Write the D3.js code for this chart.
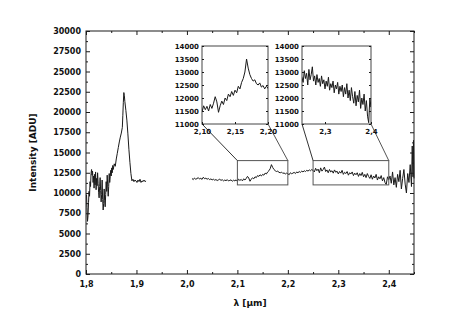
<!DOCTYPE html>
<html><head><meta charset="utf-8">
<script src="https://cdn.jsdelivr.net/npm/d3@7"></script>
<style>
body{margin:0;background:#fff}
text{font-family:"DejaVu Sans",sans-serif;font-weight:bold;fill:#111}
</style>
</head><body><svg id="c" width="463" height="334"></svg>
<script>
// ---- data ----
const seg1Lambda = [1.801,1.802,1.803,1.804,1.805,1.806,1.807,1.808,1.809,1.810,1.811,1.812,1.813,1.814,1.815,1.816,1.817,1.818,1.819,1.820,1.821,1.822,1.823,1.824,1.825,1.826,1.827,1.828,1.829,1.830,1.831,1.832,1.833,1.834,1.835,1.836,1.837,1.838,1.839,1.840,1.841,1.842,1.843,1.844,1.845,1.846,1.847,1.848,1.849,1.850,1.851,1.852,1.853,1.854,1.856,1.858,1.860,1.862,1.864,1.866,1.868,1.870,1.872,1.873,1.874,1.875,1.876,1.877,1.879,1.881,1.883,1.885,1.887,1.889,1.891,1.893,1.895,1.897,1.899,1.901,1.903,1.905,1.907,1.909,1.911,1.913,1.915,1.917,1.919];
const seg1Intensity = [9800,8200,6500,7200,8800,10200,9600,11400,10800,12400,12900,12200,12700,11300,12100,10600,12300,11000,12600,10400,11800,10900,12500,11200,10100,9400,10800,11900,10300,8900,9800,11600,9200,7900,8700,10500,9100,8300,9800,11400,10200,12200,11000,9600,10800,12400,11300,12000,12800,12100,13100,12500,13400,12900,13600,13300,14200,14900,15600,16300,16900,17400,18100,19600,21200,22400,22000,21300,20200,19000,17300,15400,13800,12400,11500,11700,11400,11600,11500,11300,11600,11400,11700,11300,11500,11400,11600,11400,11500];

const seg2Lambda = [2.0100,2.0125,2.0150,2.0175,2.0200,2.0225,2.0250,2.0275,2.0300,2.0325,2.0350,2.0375,2.0400,2.0425,2.0450,2.0475,2.0500,2.0525,2.0550,2.0575,2.0600,2.0625,2.0650,2.0675,2.0700,2.0725,2.0750,2.0775,2.0800,2.0825,2.0850,2.0875,2.0900,2.0925,2.0950,2.0975,2.1000,
2.1025,2.1050,2.1075,2.1100,2.1125,2.1150,2.1175,2.1200,2.1225,2.1250,2.1275,2.1300,2.1325,2.1350,2.1375,2.1400,2.1425,2.1450,2.1475,2.1500,2.1525,2.1550,2.1575,2.1600,2.1625,2.1650,2.1675,2.1700,2.1725,2.1750,2.1775,2.1800,2.1825,2.1850,2.1875,2.1900,2.1925,2.1950,2.1975,2.2000,
2.2025,2.2050,2.2075,2.2100,2.2125,2.2150,2.2175,2.2200,2.2225,2.2250,2.2275,2.2300,2.2325,2.2350,2.2375,2.2400,2.2425,2.2450,2.2475,2.2500,
2.2525,2.2550,2.2575,2.2600,2.2625,2.2650,2.2675,2.2700,2.2725,2.2750,2.2775,2.2800,2.2825,2.2850,2.2875,2.2900,2.2925,2.2950,2.2975,2.3000,2.3025,2.3050,2.3075,2.3100,2.3125,2.3150,2.3175,2.3200,2.3225,2.3250,2.3275,2.3300,2.3325,2.3350,2.3375,2.3400,2.3425,2.3450,2.3475,2.3500,2.3525,2.3550,2.3575,2.3600,2.3625,2.3650,2.3675,2.3700,2.3725,2.3750,2.3775,2.3800,2.3825,2.3850,2.3875,2.3900,2.3925,2.3950,2.3975,2.4000,
2.4025,2.4050,2.4075,2.4100,2.4125,2.4150,2.4175,2.4200,2.4225,2.4250,2.4275,2.4300,2.4325,2.4350,2.4375,2.4400,2.4425,2.4450,2.4465,2.4480,2.4490,2.4500];
const seg2Intensity = [11800,11650,11850,11700,11780,11900,11720,11820,11680,11950,11760,11830,11700,11790,11650,11740,11620,11700,11580,11660,11540,11620,11700,11560,11640,11500,11600,11520,11650,11480,11560,11620,11450,11580,11500,11620,11460,
11700,11550,11680,11500,11750,11600,11800,12050,11850,11450,11700,11880,11750,12000,11900,12150,12050,12250,12100,12300,12200,12450,12350,12600,12750,13000,13500,13150,12900,12750,12650,12700,12550,12500,12580,12420,12480,12350,12450,12380,
12250,12500,12380,12450,12550,12400,12600,12500,12650,12550,12700,12600,12750,12650,12800,12700,12850,12750,12900,12780,
12600,13050,12750,12950,12500,13100,12700,12900,13200,12650,12850,12500,12900,12600,12750,12450,12850,12550,12700,12350,12650,12450,12800,12300,12550,12400,12650,12200,12500,12350,12600,12150,12450,12250,12500,12050,12400,12150,12550,12000,12300,11900,12400,12050,11800,12250,11700,12100,11850,12300,11600,12000,11750,12150,11500,11900,11300,11050,12000,11650,
12100,11200,12600,11000,11900,10700,12300,11400,12800,10500,11800,12900,11100,10000,12400,11300,13500,10800,15800,12000,16500,11800];

const xTickValues = [1.8,1.9,2.0,2.1,2.2,2.3,2.4];
const xMinorValues = [1.85,1.95,2.05,2.15,2.25,2.35,2.45];
const yTickValues = [0,2500,5000,7500,10000,12500,15000,17500,20000,22500,25000,27500,30000];
const inset1XTicks = [2.10,2.15,2.20];
const inset2XTicks = [2.3,2.4];
const insetYTicks = [11000,11500,12000,12500,13000,13500,14000];
const inset1Domain = [2.10,2.20];
const inset2Domain = [2.25,2.40];
const insetYDomain = [11000,14000];

// ---- layout ----
const svg = d3.select("#c");
const L = 86, R = 414, T = 31, B = 274;
const x = d3.scaleLinear().domain([1.8,2.45]).range([L,R]);
const y = d3.scaleLinear().domain([0,30000]).range([B,T]);
const comma = f => v => d3.format(f)(v).replace(".", ",");
const ink = "#1a1a1a";

function styleAxis(g){
  g.select(".domain").remove();
  g.selectAll("line").attr("stroke", ink);
}

// frame
svg.append("rect").attr("x",L).attr("y",T).attr("width",R-L).attr("height",B-T)
  .attr("fill","none").attr("stroke",ink).attr("stroke-width",1);

// bottom axis
svg.append("g").attr("transform",`translate(0,${B})`)
  .call(d3.axisBottom(x).tickValues(xTickValues).tickSizeInner(-4).tickSizeOuter(0).tickPadding(7).tickFormat(comma(".1f")))
  .call(styleAxis).selectAll("text").attr("font-size",8).attr("font-family","DejaVu Sans").attr("font-weight","bold").attr("fill","#111");
svg.append("g").attr("transform",`translate(0,${B})`)
  .call(d3.axisBottom(x).tickValues(xMinorValues).tickSizeInner(-2).tickSizeOuter(0).tickFormat(""))
  .call(styleAxis);
// top axis
svg.append("g").attr("transform",`translate(0,${T})`)
  .call(d3.axisTop(x).tickValues(xTickValues).tickSizeInner(-4).tickSizeOuter(0).tickFormat(""))
  .call(styleAxis);
svg.append("g").attr("transform",`translate(0,${T})`)
  .call(d3.axisTop(x).tickValues(xMinorValues).tickSizeInner(-2).tickSizeOuter(0).tickFormat(""))
  .call(styleAxis);
// left axis
const yMinor = yTickValues.slice(0,-1).map(v => v + 1250);
svg.append("g").attr("transform",`translate(${L},0)`)
  .call(d3.axisLeft(y).tickValues(yTickValues).tickSizeInner(-4).tickSizeOuter(0).tickPadding(5).tickFormat(d3.format("d")))
  .call(styleAxis).selectAll("text").attr("font-size",8).attr("font-family","DejaVu Sans").attr("font-weight","bold").attr("fill","#111");
svg.append("g").attr("transform",`translate(${L},0)`)
  .call(d3.axisLeft(y).tickValues(yMinor).tickSizeInner(-2).tickSizeOuter(0).tickFormat(""))
  .call(styleAxis);
// right axis
svg.append("g").attr("transform",`translate(${R},0)`)
  .call(d3.axisRight(y).tickValues(yTickValues).tickSizeInner(-4).tickSizeOuter(0).tickFormat(""))
  .call(styleAxis);
svg.append("g").attr("transform",`translate(${R},0)`)
  .call(d3.axisRight(y).tickValues(yMinor).tickSizeInner(-2).tickSizeOuter(0).tickFormat(""))
  .call(styleAxis);

// axis titles
svg.append("text").attr("x",(L+R)/2).attr("y",306).attr("text-anchor","middle").attr("font-size",9).text("λ [µm]");
svg.append("text").attr("transform",`translate(36,${(T+B)/2}) rotate(-90)`).attr("text-anchor","middle").attr("font-size",9).text("Intensity [ADU]");

// data lines
const seg1 = seg1Lambda.map((l,i)=>[l,seg1Intensity[i]]);
const seg2 = seg2Lambda.map((l,i)=>[l,seg2Intensity[i]]);
const line = d3.line().x(d=>x(d[0])).y(d=>y(d[1]));
[seg1,seg2].forEach(s => svg.append("path").datum(s).attr("d",line)
  .attr("fill","none").attr("stroke",ink).attr("stroke-width",1));

// zoom rectangles on main plot
const insets = [
  {dom: inset1Domain, ticks: inset1XTicks, fmt: comma(".2f"), x0: 202, x1: 268},
  {dom: inset2Domain, ticks: inset2XTicks, fmt: comma(".1f"), x0: 302, x1: 371}
];
const iy = d3.scaleLinear().domain(insetYDomain).range([124,46]);
insets.forEach((ins,k) => {
  const rx0 = x(ins.dom[0]), rx1 = x(ins.dom[1]);
  const ry0 = y(insetYDomain[1]), ry1 = y(insetYDomain[0]);
  svg.append("rect").attr("x",rx0).attr("y",ry0).attr("width",rx1-rx0).attr("height",ry1-ry0)
    .attr("fill","none").attr("stroke","#555").attr("stroke-width",1);
  // connectors
  svg.append("line").attr("x1",ins.x0).attr("y1",124).attr("x2",rx0).attr("y2",ry0).attr("stroke","#333");
  svg.append("line").attr("x1",ins.x1).attr("y1",124).attr("x2",rx1).attr("y2",ry0).attr("stroke","#555");

  // inset
  const ix = d3.scaleLinear().domain(ins.dom).range([ins.x0, ins.x1]);
  const clipId = "clip"+k;
  svg.append("clipPath").attr("id",clipId).append("rect")
    .attr("x",ins.x0).attr("y",46).attr("width",ins.x1-ins.x0).attr("height",78);
  svg.append("rect").attr("x",ins.x0).attr("y",46).attr("width",ins.x1-ins.x0).attr("height",78)
    .attr("fill","#fff").attr("stroke","#444").attr("stroke-width",1);
  const pts = seg2.filter(d => d[0] >= ins.dom[0]-0.003 && d[0] <= ins.dom[1]+0.003);
  svg.append("path").datum(pts).attr("clip-path",`url(#${clipId})`)
    .attr("d", d3.line().x(d=>ix(d[0])).y(d=>iy(d[1])))
    .attr("fill","none").attr("stroke",ink).attr("stroke-width",1);
  svg.append("g").attr("transform",`translate(0,124)`)
    .call(d3.axisBottom(ix).tickValues(ins.ticks).tickSizeInner(-2).tickSizeOuter(0).tickPadding(5).tickFormat(ins.fmt))
    .call(styleAxis).selectAll("text").attr("font-size",7).attr("font-family","DejaVu Sans").attr("font-weight","bold").attr("fill","#111");
  svg.append("g").attr("transform",`translate(${ins.x0},0)`)
    .call(d3.axisLeft(iy).tickValues(insetYTicks).tickSizeInner(-2).tickSizeOuter(0).tickPadding(3).tickFormat(d3.format("d")))
    .call(styleAxis).selectAll("text").attr("font-size",7).attr("font-family","DejaVu Sans").attr("font-weight","bold").attr("fill","#111");
  svg.append("g").attr("transform",`translate(${ins.x1},0)`)
    .call(d3.axisRight(iy).tickValues(insetYTicks).tickSizeInner(-2).tickSizeOuter(0).tickFormat(""))
    .call(styleAxis);
});
</script>
</body></html>
